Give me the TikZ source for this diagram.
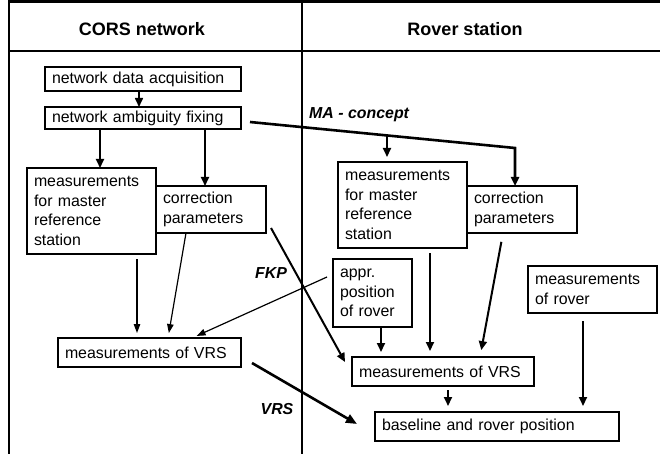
\documentclass[tikz,border=0pt]{standalone}
\usepackage{fontspec}
\setmainfont{Liberation Sans}
\usepackage{tikz}
\usetikzlibrary{arrows.meta}
\tikzset{
  tableline/.style={line width=2.2pt},
  colhead/.style={font=\fontsize{18pt}{21pt}\selectfont\bfseries},
  methodlabel/.style={font=\fontsize{15.9pt}{19pt}\selectfont\bfseries\itshape, inner sep=0pt},
  procbox/.style={
    rectangle, draw, line width=2pt, outer sep=0pt, anchor=north west,
    inner xsep=7pt, inner ysep=2pt, align=left,
    font=\fontsize{15.9pt}{19.5pt}\selectfont
  },
  flowarrow/.style={-{Triangle[length=9pt,width=8pt]}, line width=2pt},
  thinarrow/.style={-{Triangle[length=9pt,width=6.5pt]}, line width=1.2pt},
  heavyarrow/.style={-{Triangle[length=11pt,width=9pt]}, line width=2.6pt},
}

\begin{document}
\begin{tikzpicture}[x=1pt,y=-1pt]
  \useasboundingbox (0,0) rectangle (660,454);
  % table frame
  \draw[tableline] (9,454) -- (9,1.5) -- (660,1.5);
  \draw[tableline] (9,51) -- (660,51);
  \draw[tableline] (302,1.5) -- (302,454);
  \node[colhead] (corshead) at (142,29) {CORS network};
  \node[colhead] (roverhead) at (465,29) {Rover station};

  % CORS network side
  \node[procbox, text width=182pt, minimum height=24pt] (acq) at (45,67) {network data acquisition};
  \node[procbox, text width=182pt, minimum height=22pt] (fix) at (45,107) {network ambiguity fixing};
  \node[procbox, text width=115pt, minimum height=86pt] (mml) at (27,168) {measurements\\for master\\reference\\station};
  \node[procbox, text width=96pt, minimum height=47pt] (cpl) at (156,186) {correction\\parameters};
  \node[procbox, text width=169pt, minimum height=29pt] (vrsl) at (58,338) {measurements of VRS};

  % rover side
  \node[procbox, text width=115pt, minimum height=86pt] (mmr) at (338,162) {measurements\\for master\\reference\\station};
  \node[procbox, text width=96pt, minimum height=47pt] (cpr) at (467,186) {correction\\parameters};
  \node[procbox, text width=65pt, minimum height=68pt] (appr) at (333,259) {appr.\\position\\of rover};
  \node[procbox, text width=115pt, minimum height=47pt] (rover) at (528,266) {measurements\\of rover};
  \node[procbox, text width=168pt, minimum height=29pt] (vrsr) at (352,357) {measurements of VRS};
  \node[procbox, text width=230pt, minimum height=29pt] (base) at (375,412) {baseline and rover position};

  % method labels
  \node[methodlabel, anchor=west] (malabel) at (309,115) {MA - concept};
  \node[methodlabel] (fkplabel) at (271,273) {FKP};
  \node[methodlabel] (vrslabel) at (277,409) {VRS};

  % arrows, CORS side
  \draw[flowarrow, line width=1.6pt] ([xshift=-4pt]acq.south) -- ([xshift=-4pt]fix.north);
  \draw[flowarrow] ([xshift=-43pt]fix.south) -- ([xshift=8.5pt]mml.north);
  \draw[flowarrow] ([xshift=62pt]fix.south) -- ([xshift=-6pt]cpl.north);
  \draw[thinarrow, shorten <=5pt, shorten >=5pt] ([xshift=45.5pt]mml.south) -- ([xshift=-12.5pt]vrsl.north);
  \draw[thinarrow, shorten >=5pt] ([xshift=-25pt]cpl.south) -- ([xshift=18.5pt]vrsl.north);

  % FKP, VRS and MA concepts
  \draw[thinarrow, shorten >=5pt] ([xshift=-6pt,yshift=16pt]appr.west) -- ([xshift=42.5pt]vrsl.north);
  \draw[flowarrow] ([xshift=5pt,yshift=5pt]cpl.south east) -- ([xshift=-7pt,yshift=-5pt]vrsr.north west);
  \draw[heavyarrow] ([xshift=11pt,yshift=4pt]vrsl.south east) -- ([xshift=-18pt,yshift=2.5pt]base.west);
  \coordinate (makink) at (515,148);
  \coordinate (mabranch) at (387,135.4);
  \draw[flowarrow, line width=2.6pt] ([xshift=9pt,yshift=-4pt]fix.east) -- (makink) -- (makink |- cpr.north);
  \draw[flowarrow, shorten >=5pt] (mabranch) -- (mabranch |- mmr.north);

  % arrows, rover side
  \draw[flowarrow, shorten <=5pt, shorten >=6pt] ([xshift=27.5pt]mmr.south) -- ([xshift=-13pt]vrsr.north);
  \draw[flowarrow, shorten <=9pt, shorten >=7pt] ([xshift=-19pt]cpr.south) -- ([xshift=37pt]vrsr.north);
  \draw[flowarrow, shorten >=5pt] ([xshift=8.5pt]appr.south) -- ([xshift=-62pt]vrsr.north);
  \draw[flowarrow, shorten <=8pt, shorten >=6pt] ([xshift=-9.5pt]rover.south) -- ([xshift=86pt]base.north);
  \draw[flowarrow, shorten <=4pt, shorten >=6pt] ([xshift=5pt]vrsr.south) -- ([xshift=-49pt]base.north);
\end{tikzpicture}
\end{document}
